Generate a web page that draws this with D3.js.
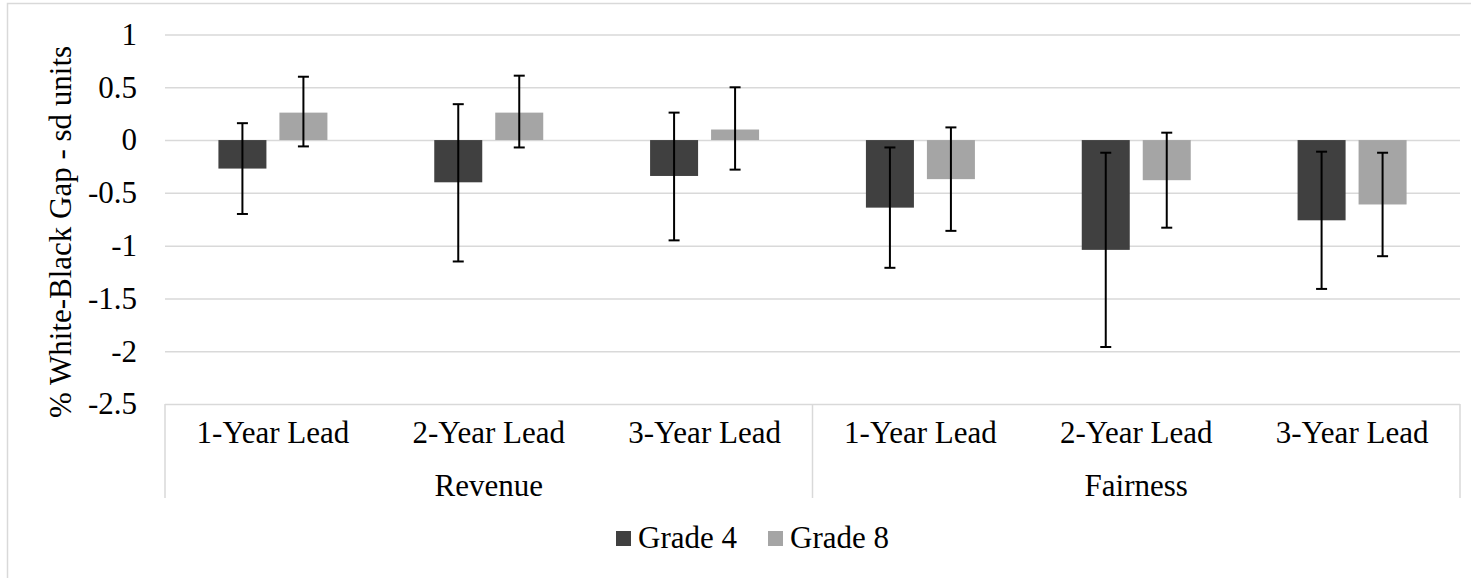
<!DOCTYPE html>
<html>
<head>
<meta charset="utf-8">
<script src="https://cdn.jsdelivr.net/npm/d3@7"></script>
<style>
  html, body { margin: 0; padding: 0; background: #fff; }
  svg text { font-family: "Liberation Serif", "Times New Roman", "DejaVu Serif", serif; }
</style>
</head>
<body>
<svg width="1471" height="578"></svg>
<script>
// chart values
const leads = ["1-Year Lead", "2-Year Lead", "3-Year Lead"];
const groups = ["Revenue", "Fairness"];
const seriesNames = ["Grade 4", "Grade 8"];
const seriesColors = ["#404040", "#a5a5a5"];

const grade4 = [-0.27, -0.40, -0.34, -0.64, -1.04, -0.76];
const grade4Low = [-0.70, -1.15, -0.95, -1.21, -1.96, -1.41];
const grade4High = [0.16, 0.34, 0.26, -0.07, -0.12, -0.11];

const grade8 = [0.26, 0.26, 0.10, -0.37, -0.38, -0.61];
const grade8Low = [-0.06, -0.07, -0.28, -0.86, -0.83, -1.10];
const grade8High = [0.60, 0.61, 0.50, 0.12, 0.07, -0.12];

const yTicks = [1, 0.5, 0, -0.5, -1, -1.5, -2, -2.5];

// one row per category: group + lead
const cats = [];
groups.forEach(g => leads.forEach(l => cats.push({ id: g + "|" + l, group: g, lead: l })));

const series = [
  { name: seriesNames[0], color: seriesColors[0], vals: grade4, lo: grade4Low, hi: grade4High },
  { name: seriesNames[1], color: seriesColors[1], vals: grade8, lo: grade8Low, hi: grade8High }
];

const svg = d3.select("svg");
const plotL = 165, plotR = 1460, plotT = 34.5, plotB = 404;
const grid = "#d9d9d9";
const serif = "Liberation Serif, Times New Roman, DejaVu Serif, serif";

// outer chart border (runs off the right edge like the reference)
svg.append("rect")
  .attr("x", 7.5).attr("y", 3.5)
  .attr("width", 1480).attr("height", 600)
  .attr("fill", "none").attr("stroke", grid).attr("stroke-width", 1.5);

const x = d3.scaleBand().domain(cats.map(d => d.id)).range([plotL, plotR]).padding(0);
const y = d3.scaleLinear().domain([-2.5, 1]).range([plotB, plotT]);

// y axis + gridlines
const yAxis = svg.append("g")
  .attr("transform", `translate(${plotL},0)`)
  .call(d3.axisLeft(y).tickValues(yTicks).tickSize(-(plotR - plotL)).tickPadding(28).tickFormat(d => String(d)));
yAxis.select(".domain").remove();
yAxis.attr("font-family", serif).attr("font-size", 31);
yAxis.selectAll(".tick line").attr("stroke", grid).attr("stroke-width", 1.5);
yAxis.selectAll(".tick text").attr("fill", "#000");

// axis title
svg.append("text")
  .attr("transform", "translate(71,232) rotate(-90)")
  .attr("text-anchor", "middle")
  .attr("font-family", serif)
  .attr("font-size", 31)
  .text("% White-Black Gap - sd units");

// category axis: lead labels
const xAxis = svg.append("g")
  .attr("transform", `translate(0,${plotB})`)
  .call(d3.axisBottom(x).tickSize(0).tickPadding(0).tickFormat(id => id.split("|")[1]));
xAxis.select(".domain").remove();
xAxis.attr("font-family", serif).attr("font-size", 31);
xAxis.selectAll(".tick text")
  .attr("fill", "#000")
  .attr("y", 39).attr("dy", null);

// group separators
const bw = x.bandwidth();
const seps = [x(cats[0].id), x(cats[3].id), plotR];
svg.selectAll(".sep").data(seps).enter().append("line")
  .attr("class", "sep")
  .attr("x1", d => d).attr("x2", d => d)
  .attr("y1", plotB).attr("y2", 498)
  .attr("stroke", grid).attr("stroke-width", 1.5);

// group labels
svg.selectAll(".grp").data(groups).enter().append("text")
  .attr("class", "grp")
  .attr("x", g => {
    const ids = cats.filter(c => c.group === g).map(c => c.id);
    return (x(ids[0]) + x(ids[ids.length - 1]) + bw) / 2;
  })
  .attr("y", 496)
  .attr("text-anchor", "middle")
  .attr("font-family", serif)
  .attr("font-size", 31)
  .text(g => g);

// bars
const barW = bw * 0.2224;
const offs = [-bw * 0.1413, bw * 0.1413];

series.forEach((s, si) => {
  const g = svg.append("g");
  const cx = i => x(cats[i].id) + bw / 2 + offs[si];
  g.selectAll("rect").data(s.vals).enter().append("rect")
    .attr("x", (d, i) => cx(i) - barW / 2)
    .attr("y", d => y(Math.max(0, d)))
    .attr("width", barW)
    .attr("height", d => Math.abs(y(d) - y(0)))
    .attr("fill", s.color);

  // error bars
  const eb = g.selectAll(".eb").data(s.vals.map((d, i) => i)).enter().append("g").attr("class", "eb");
  eb.append("line")
    .attr("x1", i => cx(i)).attr("x2", i => cx(i))
    .attr("y1", i => y(s.hi[i])).attr("y2", i => y(s.lo[i]))
    .attr("stroke", "#000").attr("stroke-width", 2);
  eb.append("line")
    .attr("x1", i => cx(i) - 5.5).attr("x2", i => cx(i) + 5.5)
    .attr("y1", i => y(s.hi[i])).attr("y2", i => y(s.hi[i]))
    .attr("stroke", "#000").attr("stroke-width", 2);
  eb.append("line")
    .attr("x1", i => cx(i) - 5.5).attr("x2", i => cx(i) + 5.5)
    .attr("y1", i => y(s.lo[i])).attr("y2", i => y(s.lo[i]))
    .attr("stroke", "#000").attr("stroke-width", 2);
});

// legend
const legendX = [616, 768];
const leg = svg.selectAll(".leg").data(series).enter().append("g")
  .attr("class", "leg")
  .attr("transform", (d, i) => `translate(${legendX[i]},531)`);
leg.append("rect").attr("width", 15).attr("height", 15).attr("fill", d => d.color);
leg.append("text").attr("x", 22).attr("y", 17)
  .attr("font-family", serif).attr("font-size", 31).text(d => d.name);
</script>
</body>
</html>
